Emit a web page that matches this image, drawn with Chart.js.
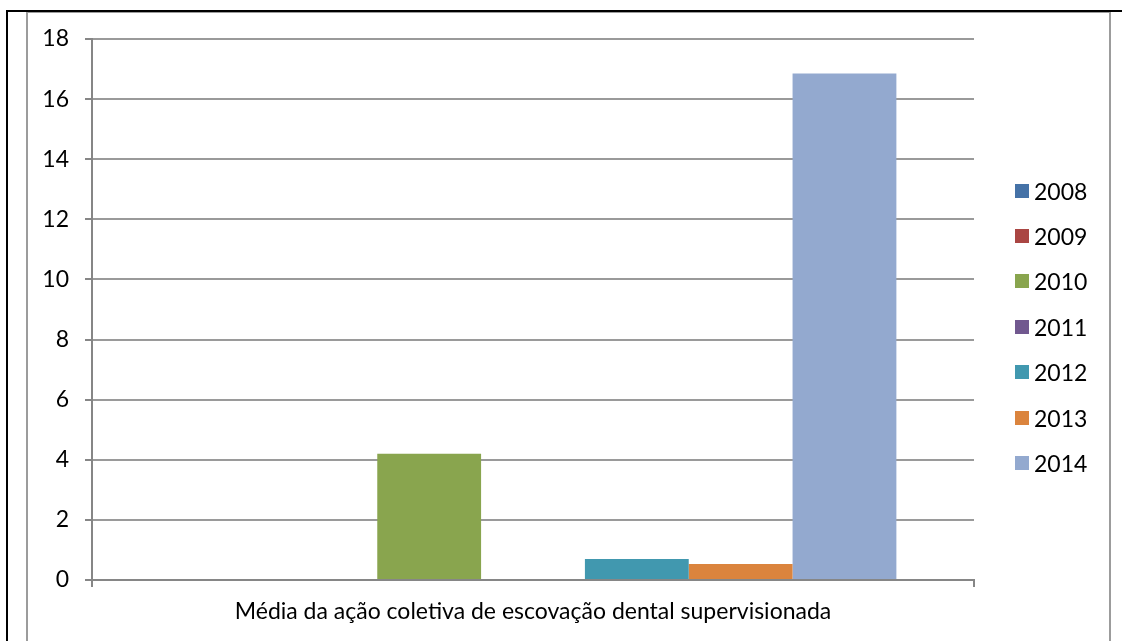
<!DOCTYPE html>
<html>
<head>
<meta charset="utf-8">
<script src="https://cdn.jsdelivr.net/npm/chart.js@4"></script>
<style>
  html, body { margin: 0; padding: 0; background: #fff; }
  body { width: 1122px; height: 641px; position: relative; overflow: hidden; font-family: Lato, "Noto Sans", sans-serif; }
  .black-top { position: absolute; left: 6px; top: 10px; width: 1116px; height: 2px; background: #000; }
  .black-left { position: absolute; left: 6px; top: 10px; width: 2px; height: 631px; background: #000; }
  .gray-box { position: absolute; left: 26px; top: 12px; width: 1081px; height: 640px; border: 2px solid #9c9c9c; border-top-width: 1px; }
  #chartCanvas { position: absolute; left: 0; top: 0; }
  #legend { position: absolute; left: 1015px; top: 168px; }
  .legend-row { height: 45.4px; display: flex; align-items: center; font-size: 23px; color: #000; }
  .legend-box { width: 14px; height: 14px; margin-right: 5px; }
</style>
</head>
<body>
<div class="black-top"></div>
<div class="black-left"></div>
<div class="gray-box"></div>
<canvas id="chartCanvas" width="1122" height="641"></canvas>
<div id="legend"></div>
<script>
// data
const categories = ['Média da ação coletiva de escovação dental supervisionada'];
const years = ['2008', '2009', '2010', '2011', '2012', '2013', '2014'];
const values2008 = [0];
const values2009 = [0];
const values2010 = [4.2];
const values2011 = [0];
const values2012 = [0.7];
const values2013 = [0.53];
const values2014 = [16.85];
const yTicks = [0, 2, 4, 6, 8, 10, 12, 14, 16, 18];

const seriesValues = [values2008, values2009, values2010, values2011, values2012, values2013, values2014];
const seriesColors = ['#4572A7', '#AA4643', '#89A54E', '#71588F', '#4198AF', '#DB843D', '#93A9CF'];

const datasets = years.map((year, i) => ({
    label: year,
    data: seriesValues[i],
    backgroundColor: seriesColors[i],
    borderWidth: 0,
    barPercentage: 1,
    categoryPercentage: 0.824
}));

const fontFamily = 'Lato, "Noto Sans", sans-serif';
const axisGray = '#868686';

const ctx = document.getElementById('chartCanvas');
const myChart = new Chart(ctx, {
    type: 'bar',
    data: {
        labels: categories,
        datasets: datasets
    },
    options: {
        responsive: false,
        animation: false,
        layout: {
            padding: { left: 0, right: 148, top: 39, bottom: 0 }
        },
        plugins: {
            legend: { display: false },
            tooltip: { enabled: false }
        },
        scales: {
            x: {
                grid: {
                    offset: true,
                    drawOnChartArea: false,
                    drawTicks: true,
                    tickLength: 7,
                    color: axisGray,
                    lineWidth: 2
                },
                border: { color: axisGray, width: 2 },
                ticks: {
                    color: '#000',
                    padding: 11,
                    font: { family: fontFamily, size: 23 }
                },
                afterFit: (scale) => { scale.height = 61; }
            },
            y: {
                min: 0,
                max: 18,
                afterBuildTicks: (scale) => { scale.ticks = yTicks.map(v => ({ value: v })); },
                grid: {
                    color: '#9a9a9a',
                    lineWidth: 2,
                    tickLength: 7,
                    tickColor: axisGray
                },
                border: { color: axisGray, width: 2 },
                ticks: {
                    color: '#000',
                    padding: 16,
                    font: { family: fontFamily, size: 23 }
                },
                afterFit: (scale) => { scale.width = 92; }
            }
        }
    }
});

//Build the legend from the datasets
const legendEl = document.getElementById('legend');
myChart.data.datasets.forEach(ds => {
    const row = document.createElement('div');
    row.className = 'legend-row';
    const box = document.createElement('span');
    box.className = 'legend-box';
    box.style.background = ds.backgroundColor;
    const text = document.createElement('span');
    text.textContent = ds.label;
    row.appendChild(box);
    row.appendChild(text);
    legendEl.appendChild(row);
});
</script>
</body>
</html>
